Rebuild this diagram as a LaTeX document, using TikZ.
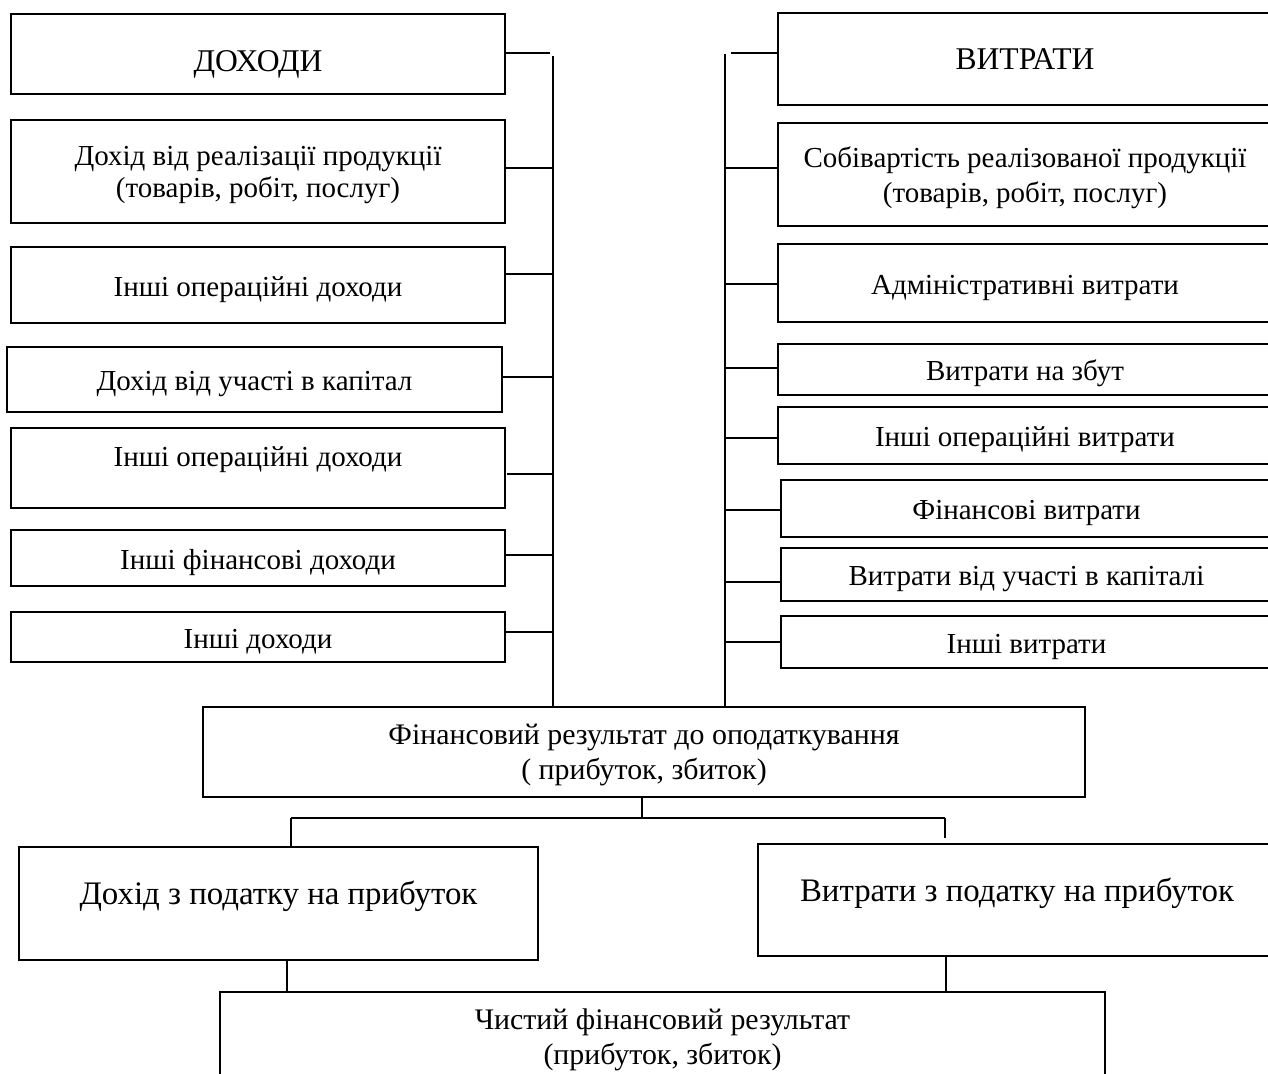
\documentclass[tikz,border=0pt]{standalone}
\usepackage{fontspec}
\setmainfont{Liberation Serif}

\begin{document}
\begin{tikzpicture}[x=0.02cm,y=-0.02cm,line width=0.7pt]
    \tikzset{span/.style args={#1/#2/#3/#4}{at={({(#1+#3)/2},{(#2+#4)/2})},
        minimum width={(#3-#1)*0.02cm},minimum height={(#4-#2)*0.02cm}}}
    \tikzstyle{box}=[draw=black,rectangle,inner sep=0pt,align=center,
        text height=13pt,text depth=0pt,
        font=\fontsize{16.5}{19.5}\selectfont]
    \tikzstyle{two lines}=[text height=,text depth=-1pt]
    \tikzstyle{head box}=[box,font=\fontsize{18}{20}\selectfont]
    \tikzstyle{result box}=[box,two lines,font=\fontsize{17}{20}\selectfont]
    \tikzstyle{tax box}=[box,font=\fontsize{18.7}{22}\selectfont]

    \useasboundingbox (0,0) rectangle (1268,1074);
    \clip (0,0) rectangle (1268,1074);

    % Income side
    \node[head box, span=11/14/505/94, text height=22pt, text depth=2.6pt] (L0) {ДОХОДИ};
    \node[box, two lines, span=11/120/505/223, font=\fontsize{16.5}{18.3}\selectfont] (L1) {Дохід від реалізації продукції\\(товарів, робіт, послуг)};
    \node[box, span=11/247/505/323] (L2) {Інші операційні доходи};
    \node[box, span=7/347/502/412] (L3) {Дохід від участі в капітал};
    \node[box, span=11/428/505/508, text height=12pt, text depth=14pt] (L4) {Інші операційні доходи};
    \node[box, span=11/530/505/586] (L5) {Інші фінансові доходи};
    \node[box, span=11/612/505/662] (L6) {Інші доходи};

    % Expense side
    \node[head box, span=778/13/1272/105, text height=, text depth=] (R0) {ВИТРАТИ};
    \node[box, two lines, span=778/123/1272/226, font=\fontsize{16.5}{20}\selectfont] (R1) {Собівартість реалізованої продукції\\(товарів, робіт, послуг)};
    \node[box, span=778/244/1272/322] (R2) {Адміністративні витрати};
    \node[box, span=778/344/1272/395] (R3) {Витрати на збут};
    \node[box, span=778/407/1272/464] (R4) {Інші операційні витрати};
    \node[box, span=781/480/1272/537] (R5) {Фінансові витрати};
    \node[box, span=781/548/1272/601] (R6) {Витрати від участі в капіталі};
    \node[box, span=781/616/1272/668] (R7) {Інші витрати};

    % Results
    \node[result box, span=203/707/1085/797] (C) {Фінансовий результат до оподаткування\\( прибуток, збиток)};
    \node[tax box, span=19/847/538/960, text height=12pt, text depth=11.4pt] (TL) {Дохід з податку на прибуток};
    \node[tax box, span=758/844/1276/956, text height=12pt, text depth=10.4pt] (TR) {Витрати з податку на прибуток};
    \node[result box, span=220/992/1105/1088, text depth=] (B) {Чистий фінансовий результат\\(прибуток, збиток)};

    % Buses
    \coordinate (ltop) at (553,56);
    \coordinate (rtop) at (725,54);
    \draw (ltop) -- (ltop |- C.north);
    \draw (rtop) -- (rtop |- C.north);

    % Connect the boxes with the buses
    \foreach \n/\y in {1/168,2/274,3/377,5/555,6/632}
        \draw (L\n.east |- 0,\y) -- (ltop |- 0,\y);
    \draw (L0.east |- 0,53) -- (550,53);
    \draw (507,474) -- (ltop |- 0,474);
    \foreach \n/\y in {1/168,2/284,3/368,4/438,5/510,6/582,7/642}
        \draw (rtop |- 0,\y) -- (R\n.west |- 0,\y);
    \draw (731,53) -- (R0.west |- 0,53);

    % Tax branches
    \coordinate (split) at (642,818);
    \draw (C.south -| split) -- (split);
    \draw (291,818) -- (945,818);
    \draw (291,818) -- (TL.north -| 291,0);
    \draw (945,818) -- (945,838);
    \draw (TL.south -| 287,0) -- (B.north -| 287,0);
    \draw (TR.south -| 946,0) -- (B.north -| 946,0);
\end{tikzpicture}
\end{document}
